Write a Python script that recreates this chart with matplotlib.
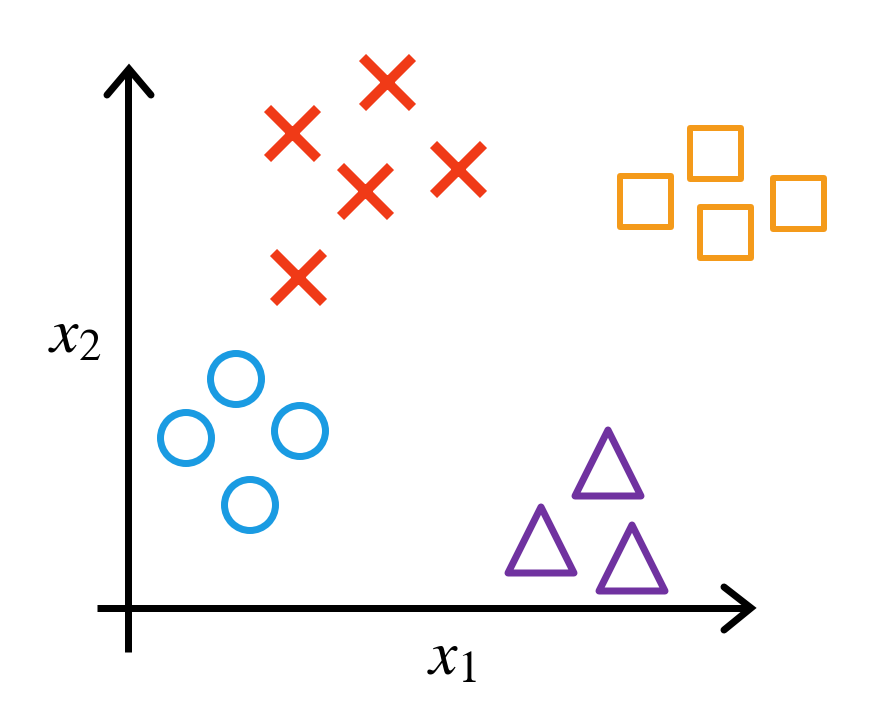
import matplotlib.pyplot as plt

# marker centres (pixel coordinates, y downwards)
red_x = [387, 292, 365, 458, 298]
red_y = [82, 133, 191, 169, 277]
orange_x = [715, 798, 725, 645]
orange_y = [153, 203, 232, 201]
blue_x = [236, 186, 300, 250]
blue_y = [379, 438, 431, 505]
purple_x = [608, 541, 632]
purple_y = [463, 540, 558]

W, H = 891, 721
fig = plt.figure(figsize=(W / 100, H / 100), dpi=100)
ax = fig.add_axes([0, 0, 1, 1])
ax.set_xlim(0, W)
ax.set_ylim(H, 0)
ax.axis('off')

pt = 0.72  # points per pixel at dpi 100
lw_axis = 7 * pt

# axes with open arrowheads
ax.plot([128, 128], [652, 70], color='black', lw=lw_axis, solid_capstyle='butt')
ax.plot([107, 129, 151], [95, 69, 95], color='black', lw=lw_axis,
        solid_capstyle='round', solid_joinstyle='miter')
ax.plot([97, 750], [608, 608], color='black', lw=lw_axis, solid_capstyle='butt')
ax.plot([724, 751, 724], [587, 608, 630], color='black', lw=lw_axis,
        solid_capstyle='round', solid_joinstyle='miter')

ax.scatter(red_x, red_y, marker='x', s=(50 * pt) ** 2, color='#F03A17',
           linewidths=10 * pt)
ax.scatter(orange_x, orange_y, marker='s', s=(51 * pt) ** 2,
           facecolors='none', edgecolors='#F49A1A', linewidths=6 * pt)
ax.scatter(blue_x, blue_y, marker='o', s=(51 * pt) ** 2,
           facecolors='none', edgecolors='#1A9BE2', linewidths=7 * pt)
ax.scatter(purple_x, purple_y, marker='^', s=(66 * pt) ** 2,
           facecolors='none', edgecolors='#7032A0', linewidths=7 * pt)

plt.rcParams['mathtext.fontset'] = 'stix'
ax.text(75, 335, r'$x_2$', fontsize=46, ha='center', va='center')
ax.text(452, 657, r'$x_1$', fontsize=46, ha='center', va='center')

fig.savefig('out.png', dpi=100)
